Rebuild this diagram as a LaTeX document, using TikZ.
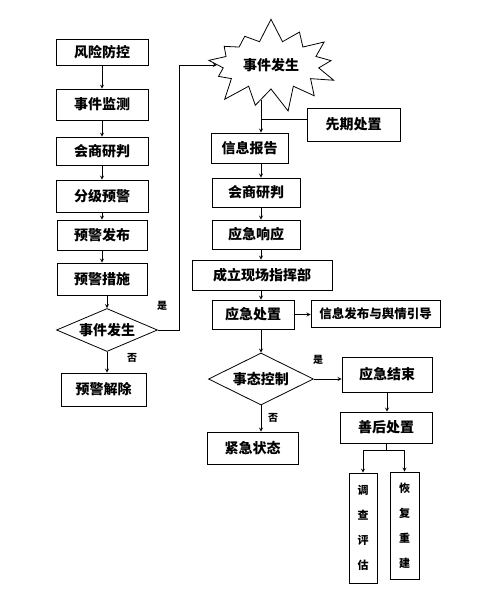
\documentclass[tikz,border=0pt]{standalone}
\usepackage{fontspec}
\setmainfont{Noto Sans CJK SC}
\usetikzlibrary{shapes.geometric, shapes.symbols, calc}

\begin{document}
\begin{tikzpicture}[
    x=1pt, y=-1pt,
    >=stealth,
    line width=0.8pt,
    block/.style={draw, rectangle, inner sep=0pt, font=\fontsize{14}{16}\selectfont\bfseries},
    decide/.style={draw, diamond, aspect=2.3, inner sep=0pt, font=\fontsize{14}{16}\selectfont\bfseries},
    tallbox/.style={draw, rectangle, inner sep=0pt, align=center, font=\fontsize{11}{25}\selectfont\bfseries},
    note/.style={font=\fontsize{10}{12}\selectfont\bfseries}
]
    \useasboundingbox (0,0) rectangle (481,600);

    % left column
    \node[block, minimum width=92, minimum height=26] (risk) at (102,52) {风险防控};
    \node[block, minimum width=92, minimum height=31] (monitor) at (102,104.5) {事件监测};
    \node[block, minimum width=92, minimum height=28] (consultA) at (102,151) {会商研判};
    \node[block, minimum width=92, minimum height=32] (grade) at (102,196) {分级预警};
    \node[block, minimum width=90, minimum height=30] (publish) at (102,235) {预警发布};
    \node[block, minimum width=90, minimum height=32] (measure) at (102,279) {预警措施};
    \node[decide, minimum width=101, minimum height=43] (occurA) at (107,330) {事件发生};
    \node[block, minimum width=85, minimum height=33] (lift) at (103.5,389.5) {预警解除};
    \node[note] (yesA) at (162,306) {是};
    \node[note] (noA) at (132,358) {否};

    % right column
    \node[starburst, draw, starburst points=13, starburst point height=24pt, random starburst=7,
          minimum width=117pt, minimum height=96pt, inner sep=6pt,
          font=\fontsize{14}{16}\selectfont\bfseries] (occurB) at (271,65) {事件发生};
    \coordinate (spine) at (occurB.254);
    \node[block, minimum width=93, minimum height=33] (early) at (353.5,124.5) {先期处置};
    \coordinate (earlyin) at ([yshift=5pt]early.west);
    \node[block, minimum width=77, minimum height=30] (report) at (249.5,148) {信息报告};
    \node[block, minimum width=88, minimum height=29] (consultB) at (256,192.5) {会商研判};
    \node[block, minimum width=88, minimum height=29] (respond) at (256,234.5) {应急响应};
    \node[block, minimum width=140, minimum height=30] (hq) at (262,275) {成立现场指挥部};
    \node[block, minimum width=82, minimum height=29] (handle) at (253,314.5) {应急处置};
    \node[block, minimum width=129, minimum height=27, font=\fontsize{12.5}{14}\selectfont\bfseries] (info) at (375.5,313.5) {信息发布与舆情引导};
    \node[decide, minimum width=105, minimum height=52] (ctrl) at (spine |- 0,379) {事态控制};
    \node[block, minimum width=90, minimum height=35] (finish) at (387,374.5) {应急结束};
    \node[block, minimum width=92, minimum height=31] (after) at (386,427.5) {善后处置};
    \node[block, minimum width=91, minimum height=32] (urgent) at (252.5,448) {紧急状态};
    \node[tallbox, minimum width=28, minimum height=110] (survey) at (363,528) {调\\查\\评\\估};
    \node[tallbox, minimum width=29, minimum height=107] (rebuild) at (404.5,525.5) {恢\\复\\重\\建};
    \node[note] (yesB) at (318,360) {是};
    \node[note] (noB) at (273,418) {否};

    \draw[->] (risk) -- (monitor);
    \draw[->] (monitor) -- (consultA);
    \draw[->] (consultA) -- (grade);
    \draw[->] (grade) -- (publish);
    \draw[->] (publish) -- (measure);
    \draw[->] (occurA.north |- measure.south) -- (occurA.north);
    \draw[->] (occurA.south) -- (occurA.south |- lift.north);
    \draw[->] (occurA.east) -- ++(21,0) |- (occurB.west);

    \draw[->] (spine) -- (spine |- report.north);
    \draw (earlyin) -- (spine |- earlyin);
    \draw[->] (spine |- report.south) -- (spine |- consultB.north);
    \draw[->] (spine |- consultB.south) -- (spine |- respond.north);
    \draw[->] (spine |- respond.south) -- (spine |- hq.north);
    \draw[->] (spine |- hq.south) -- (spine |- handle.north);
    \draw[->] (spine |- handle.south) -- (ctrl.north);
    \draw[->] (handle.east) -- (handle.east -| info.west);
    \draw[->] (ctrl.east) -- (ctrl.east -| finish.west);
    \draw[->] (ctrl.south) -- (ctrl.south |- urgent.north);
    \draw[->] (finish.south) -- (finish.south |- after.north);
    \draw[->] (after.south) -- ++(0,7) -| (survey.north);
    \draw[->] (after.south) -- ++(0,7) -| (rebuild.north);

\end{tikzpicture}
\end{document}
